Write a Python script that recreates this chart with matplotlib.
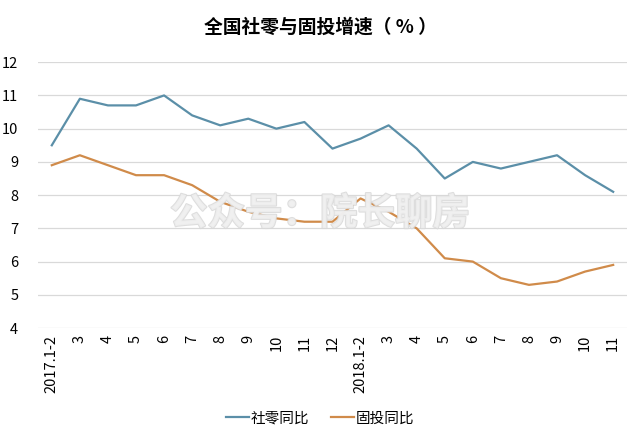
import matplotlib.pyplot as plt
import matplotlib.patheffects as pe

plt.rcParams['font.family'] = ['Noto Sans CJK SC', 'DejaVu Sans']

# data
labels = ['2017.1-2', '3', '4', '5', '6', '7', '8', '9', '10', '11', '12',
          '2018.1-2', '3', '4', '5', '6', '7', '8', '9', '10', '11']
retail = [9.5, 10.9, 10.7, 10.7, 11.0, 10.4, 10.1, 10.3, 10.0, 10.2, 9.4,
          9.7, 10.1, 9.4, 8.5, 9.0, 8.8, 9.0, 9.2, 8.6, 8.1]
invest = [8.9, 9.2, 8.9, 8.6, 8.6, 8.3, 7.8, 7.5, 7.3, 7.2, 7.2,
          7.9, 7.5, 7.0, 6.1, 6.0, 5.5, 5.3, 5.4, 5.7, 5.9]

fig = plt.figure(figsize=(6.4, 4.38), dpi=100)
ax = fig.add_axes([0.059, 0.251, 0.921, 0.607])

x = range(len(labels))
ax.plot(x, retail, color='#5b8fa8', lw=1.6, label='社零同比')
ax.plot(x, invest, color='#d08b4a', lw=1.6, label='固投同比')

ax.set_xlim(-0.5, len(labels) - 0.5)
ax.set_ylim(4, 12)
ax.set_yticks(range(4, 13))
ax.set_xticks(list(x))
ax.set_xticklabels(labels, rotation=90, fontsize=10.5)
ax.tick_params(axis='y', labelsize=10.5, length=0, pad=14)
ax.tick_params(axis='x', length=0, pad=5)
ax.grid(axis='y', color='#d9d9d9', lw=0.9)
ax.set_axisbelow(True)
for s in ax.spines.values():
    s.set_visible(False)

fig.text(0.5, 0.937, '全国社零与固投增速（ % ）', ha='center', va='center',
         fontsize=13.5, fontweight='bold')

# watermark
fig.text(0.5, 0.513, '公众号：院长聊房', ha='center', va='center', fontsize=27,
         color='#f0f0f0', fontweight='bold', zorder=5, alpha=0.85,
         path_effects=[pe.withStroke(linewidth=1.5, foreground='#d8d8d8')])

fig.legend(loc='center', bbox_to_anchor=(0.5, 0.045), ncol=2, frameon=False,
           fontsize=10.5, handlelength=1.6, handletextpad=0.1, columnspacing=1.5)

fig.savefig('out.png', dpi=100, facecolor='white')
